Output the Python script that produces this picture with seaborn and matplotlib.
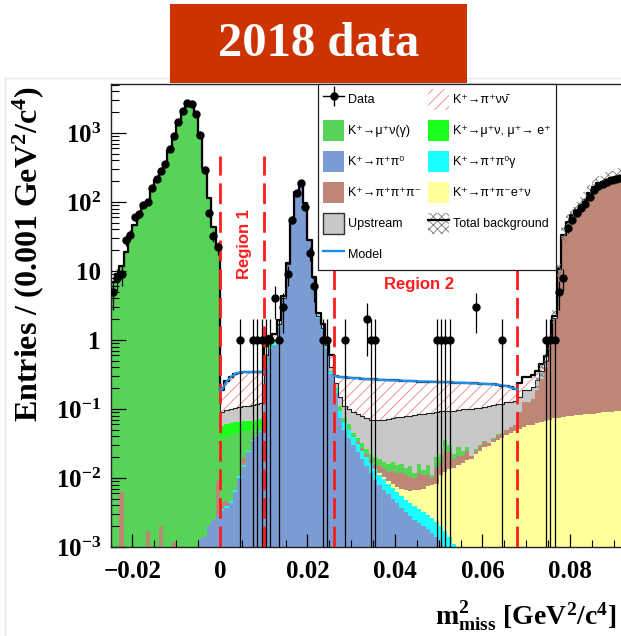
import numpy as np
import pandas as pd
import matplotlib
matplotlib.use("Agg")
import matplotlib.pyplot as plt
import seaborn as sns
from matplotlib.patches import Patch, Rectangle
from matplotlib.lines import Line2D
from matplotlib.legend_handler import HandlerTuple
from matplotlib.ticker import LogLocator, NullFormatter, MultipleLocator
from matplotlib.colors import to_rgba

plt.rcParams['mathtext.fontset'] = 'custom'
plt.rcParams['mathtext.rm'] = 'Liberation Serif:bold'
plt.rcParams['mathtext.it'] = 'Liberation Serif:bold'
plt.rcParams['mathtext.bf'] = 'Liberation Serif:bold'
plt.rcParams['hatch.linewidth'] = 0.6

# ---------------- binning ----------------
BIN_START = -0.025
BIN_WIDTH = 0.001
N_BINS = 117

# ---------------- observed data (entries per bin) ----------------
data_n = [5, 8, 9, 28, 33, 60, 67, 91, 99, 160, 215, 278, 355, 586, 895, 1430, 2106, 2692, 2633, 1885, 945, 291, 69, 32, 22,
          0, 0, 0, 0, 1, 0, 0, 1, 1, 1, 1, 1, 4, 1, 3, 9, 55, 135, 186, 85, 18, 6, 0, 1, 1,
          0, 0, 0, 1, 0, 0, 0, 0, 2, 1, 1, 0, 0, 0, 0, 0, 0, 0, 0, 0, 0, 0, 0, 0, 1,
          1, 1, 1, 0, 0, 0, 0, 0, 3, 0, 0, 0, 0, 0, 1, 0, 0, 0, 0, 0, 0, 0, 0, 0, 1,
          1, 1, 5, 8, 42, 55, 70, 82, 95, 120, 150, 170, 180, 195, 205, 215, 220]

# ---------------- simulated components (start bin index + values) ----------------
kmu2_start = 0
kmu2 = [7, 9, 12, 19, 30, 47, 66, 84, 105, 150, 210, 280, 360, 560, 880, 1400, 2150, 2750, 2700, 1950, 940, 310, 113, 44, 23,
        0.032, 0.034, 0.038, 0.038, 0.035, 0.028, 0.023, 0.012, 0.011, 0.008,
        0.05, 0.04, 0.03, 0.03, 0.02, 0.02, 0.02, 0.02, 0.02, 0.02, 0.02, 0.02, 0.02, 0.015, 0.012, 0.01,
        0.008, 0.012, 0.007, 0.008, 0.005, 0.004, 0.004, 0.003, 0.003, 0.004, 0.004, 0.003, 0.0035, 0.004, 0.003,
        0.004, 0.003, 0.0045, 0.002, 0.004, 0.002, 0.004, 0.001, 0.006, 0.005, 0.01, 0.006, 0.003, 0.007, 0.004,
        0.003, 0.0005, 0.001, 0.001, 0.001, 0, 0.001, 0.001, 0.001, 0.001, 0.001, 0]

mue_start = 25
mue = [0.02, 0.021, 0.02, 0.02, 0.02, 0.019, 0.018, 0.017, 0.016, 0.016,
       0.04, 0.05, 0.03, 0.03, 0.02, 0.02, 0.02, 0.02, 0.02, 0.02, 0.02, 0.02, 0.015, 0.01, 0.008, 0.005,
       0.002, 0.003, 0.003, 0.002, 0.001, 0.001, 0.001, 0.001, 0.0007, 0.0004, 0.0003, 0.0003, 0.0004, 0.0003,
       0.0002, 0.0002]

kpi2_start = 20
kpi2 = [0.0013, 0.0014, 0.0021, 0.0025, 0.003, 0.0033, 0.0037, 0.0044, 0.0063, 0.01, 0.0146, 0.024, 0.034, 0.04, 0.046,
        0.45, 0.75, 0.85, 1.55, 3.9, 12.5, 52, 140, 190, 95, 27.5, 7.8, 2.1, 1.4, 0.75, 0.32,
        0.17, 0.075, 0.05, 0.038, 0.03, 0.024, 0.019, 0.015, 0.012, 0.0095, 0.008, 0.0068, 0.0058, 0.005, 0.0043,
        0.0037, 0.0032, 0.0028, 0.0025, 0.0022, 0.002, 0.0018, 0.0016, 0.0014, 0.0012, 0.001, 0.0008, 0.0006,
        0.0004, 0.0003]

kpi2g_start = 25
kpi2g = [0.0002, 0.0002, 0.0003, 0.0004, 0.0006, 0.0008, 0.001, 0.0015, 0.002, 0.002,
         0.02, 0.03, 0.04, 0.06, 0.1, 0.2, 0.5, 1.0, 1.2, 0.8, 0.3, 0.1, 0.05, 0.04, 0.03, 0.025,
         0.02, 0.02, 0.015, 0.012, 0.009, 0.007, 0.006, 0.005, 0.0043, 0.0037, 0.0032, 0.0028, 0.0025, 0.0022,
         0.002, 0.0018, 0.0016, 0.0015, 0.0014, 0.0013, 0.0012, 0.0011, 0.001, 0.0009, 0.0008, 0.0007, 0.0006,
         0.0005, 0.0004, 0.0003]

ke4_start = 60
ke4 = [0.0004, 0.0005, 0.0006, 0.0008, 0.001, 0.0012, 0.0015, 0.0018, 0.0022, 0.0027, 0.0032, 0.0038, 0.0047,
       0.0052, 0.006, 0.009, 0.0105, 0.012, 0.013, 0.0145, 0.016, 0.018, 0.019, 0.022, 0.025, 0.028, 0.029,
       0.033, 0.036, 0.038, 0.042, 0.045, 0.048, 0.051, 0.054, 0.058, 0.059, 0.062, 0.065, 0.066, 0.07, 0.073,
       0.074, 0.076, 0.079, 0.08, 0.081, 0.083, 0.085, 0.084, 0.086, 0.088, 0.089, 0.09, 0.089, 0.092, 0.093]

k3pi_low_start = 0
k3pi_low = [0, 0, 0.0063, 0, 0, 0, 0, 0, 0.0017, 0, 0, 0.002, 0, 0, 0.0012, 0, 0, 0, 0, 0, 0, 0, 0, 0,
            0.006, 0.001, 0.0008, 0, 0, 0, 0.004, 0, 0.003]

k3pi_high_start = 56
k3pi_high = [0.002, 0.002, 0.002, 0.002, 0.002, 0.003, 0.0035, 0.003, 0.0045, 0.0045, 0.005, 0.0044, 0.004,
             0.0034, 0.0053, 0.004, 0.0036, 0.0022, 0.0057, 0.006, 0.0128, 0.0106, 0.0049, 0.0057, 0.0044, 0.007,
             0.0015, 0.003, 0.004, 0.005, 0.003, 0.004, 0.006, 0.006, 0.007, 0.009, 0.01, 0.039, 0.071, 0.067,
             0.08, 0.128, 0.21, 0.343, 0.75, 1.94, 10.6, 32.7, 51.7, 64.7, 75.7, 89.7, 106.7, 133.7, 166.7, 185.7,
             196.7, 207.7, 219.7, 232.7, 239.7]

upstream_start = 25
upstream = [0.035, 0.036, 0.038, 0.04, 0.042, 0.043, 0.045, 0.046, 0.048, 0.05,
            0.05, 0.05, 0.05, 0.05, 0.05, 0.05, 0.05, 0.05, 0.05, 0.05, 0.05, 0.05, 0.045, 0.045, 0.042, 0.04,
            0.04, 0.04, 0.035, 0.04, 0.045, 0.047, 0.048, 0.049, 0.048, 0.049, 0.05, 0.053, 0.056, 0.057, 0.061,
            0.061, 0.064, 0.065, 0.07, 0.069, 0.072, 0.072, 0.077, 0.07, 0.07, 0.058, 0.065, 0.073, 0.069, 0.075,
            0.072, 0.078, 0.076, 0.075, 0.074, 0.077, 0.077, 0.077, 0.074, 0.075, 0.073, 0.072,
            0.06, 0.065, 0.065, 0.07, 0.07, 0.075, 0.08, 0.08, 0.09, 0.1, 0.1, 0.1, 0.1, 0.1, 0.1, 0.1, 0.1, 0.1,
            0.1, 0.1, 0.1, 0.1, 0.1, 0.1]

pnn_start = 25
pnn = [0.10, 0.155, 0.19, 0.22, 0.23, 0.235, 0.23, 0.23, 0.227, 0.225,
       0.22, 0.22, 0.22, 0.22, 0.22, 0.21, 0.21, 0.21, 0.21, 0.2, 0.2, 0.2, 0.2, 0.2, 0.2, 0.2,
       0.06, 0.14, 0.18, 0.185, 0.19, 0.195, 0.195, 0.195, 0.2, 0.2, 0.196, 0.195, 0.188, 0.186, 0.184, 0.181,
       0.177, 0.175, 0.171, 0.165, 0.165, 0.163, 0.16, 0.158, 0.153, 0.152, 0.148, 0.147, 0.143, 0.14, 0.138,
       0.136, 0.133, 0.128, 0.124, 0.12, 0.113, 0.105, 0.1, 0.09, 0.077, 0.065,
       0.09, 0.1, 0.1, 0.1, 0.1, 0.1, 0.1, 0.1, 0.1, 0.1, 0.09, 0.08, 0.07, 0.06, 0.05, 0.05, 0.04, 0.04,
       0.03, 0.03, 0.03, 0.02, 0.02, 0.02]

# relative uncertainty of the total background (shown on the right)
band_start = 97
band_rel = [0.3, 0.3, 0.3, 0.3, 0.3, 0.3, 0.3, 0.3, 0.3, 0.3, 0.3, 0.3, 0.3, 0.3, 0.3, 0.3, 0.3, 0.3, 0.3, 0.3]

region_edges = [0.0, 0.01, 0.026, 0.068]

XTICKS = [-0.02, 0.0, 0.02, 0.04, 0.06, 0.08]
XTICKLABELS = ['\u22120.02', '0', '0.02', '0.04', '0.06', '0.08']
YTICKS = [1e-3, 1e-2, 1e-1, 1, 10, 1e2, 1e3]
YTICKLABELS = [r'$10^{-3}$', r'$10^{-2}$', r'$10^{-1}$', '1', '10', r'$10^{2}$', r'$10^{3}$']

# ---------------- derived arrays ----------------
edges = BIN_START + BIN_WIDTH * np.arange(N_BINS + 1)
centers = edges[:-1] + BIN_WIDTH / 2
edge_list = edges.tolist()


def place(start, vals):
    arr = np.zeros(N_BINS)
    arr[start:start + len(vals)] = vals
    return arr


comp = {
    'pnn': place(pnn_start, pnn),
    'ups': place(upstream_start, upstream),
    'mue': place(mue_start, mue),
    'kmu2': place(kmu2_start, kmu2),
    'k3pi': place(k3pi_low_start, k3pi_low) + place(k3pi_high_start, k3pi_high),
    'ke4': place(ke4_start, ke4),
    'kpi2g': place(kpi2g_start, kpi2g),
    'kpi2': place(kpi2_start, kpi2),
}
order_top_to_bottom = ['pnn', 'ups', 'mue', 'kmu2', 'k3pi', 'ke4', 'kpi2g', 'kpi2']
SIG_KEY_COLOR = '#fefefe'
palette = {'pnn': SIG_KEY_COLOR, 'ups': '#c8c8c8', 'mue': '#1cff1c', 'kmu2': '#57d357',
           'k3pi': '#bd8676', 'ke4': '#ffff9c', 'kpi2g': '#19ffff', 'kpi2': '#7b9bd3'}

df = pd.concat([pd.DataFrame({'m2': centers, 'w': comp[k], 'comp': k}) for k in order_top_to_bottom],
               ignore_index=True)

bkg = sum(comp[k] for k in order_top_to_bottom if k != 'pnn')
total = bkg + comp['pnn']

# ---------------- figure ----------------
fig = plt.figure(figsize=(6.21, 6.36), dpi=100)
ax = fig.add_axes([110.6 / 621, 89 / 636, 510.15 / 621, 463 / 636])
ax.set_yscale('log')

sns.histplot(data=df, x='m2', weights='w', hue='comp', hue_order=order_top_to_bottom, multiple='stack',
             bins=edge_list, element='step', fill=True, palette=palette, linewidth=0, alpha=1,
             legend=False, ax=ax)

sig_rgba = to_rgba(SIG_KEY_COLOR)
for coll in ax.collections:
    fc = coll.get_facecolor()
    if len(fc) and np.allclose(fc[0], sig_rgba, atol=1e-3):
        coll.set_facecolor('white')
        coll.set_edgecolor('#ee8080')
        coll.set_hatch('///')
        coll.set_linewidth(0)

# background uncertainty band
bi = np.arange(band_start, band_start + len(band_rel))
rel = np.array(band_rel)
lo = bkg[bi] / (1 + rel)
hi = bkg[bi] * (1 + rel)
ax.fill_between(edges[band_start:band_start + len(band_rel) + 1], np.append(lo, lo[-1]), np.append(hi, hi[-1]),
                step='post', facecolor='none', edgecolor='#767676', hatch='xxxx', linewidth=0, zorder=2.2)

# background outline and total outline
sns.histplot(x=centers, weights=bkg, bins=edge_list, element='step', fill=False, color='#222222',
             linewidth=0.8, ax=ax)
sns.histplot(x=centers, weights=total, bins=edge_list, element='step', fill=False, color='black',
             linewidth=1.6, ax=ax)

# model curve in signal regions
for lo_e, hi_e in [(region_edges[0], region_edges[1]), (region_edges[2], region_edges[3])]:
    sel = (centers > lo_e) & (centers < hi_e)
    xs = np.concatenate([[lo_e], centers[sel], [hi_e]])
    ys = np.concatenate([[total[sel][0]], total[sel], [total[sel][-1]]])
    sns.lineplot(x=xs, y=ys, color='#1e8fe6', linewidth=1.7, ax=ax, zorder=3.5, sort=True)

# signal region boundaries
ax.vlines(region_edges, 1e-3, 460, colors='#ff1c1c', linestyles=(0, (7.5, 2.8)), linewidth=2.0, zorder=3)
ax.text(0.0057, 25, 'Region 1', rotation=90, color='#ff1c1c', fontsize=12, fontweight='bold',
        family='Liberation Sans', ha='center', va='center', zorder=4)
ax.text(0.0455, 6.3, 'Region 2', color='#ff1c1c', fontsize=12, fontweight='bold',
        family='Liberation Sans', ha='center', va='center', zorder=4)

# data points
dn = np.array(data_n, dtype=float)
m = dn > 0
ax.errorbar(centers[m], dn[m], yerr=np.sqrt(dn[m]), fmt='o', color='black', ms=5, elinewidth=0.9,
            capsize=0, zorder=5)

# axes styling
ax.set_xlim(-0.025, 0.0916)
ax.set_ylim(1e-3, 5130)
ax.set_xlabel('')
ax.set_ylabel('')
ax.set_xticks(XTICKS)
ax.set_xticklabels(XTICKLABELS)
ax.xaxis.set_minor_locator(MultipleLocator(0.005))
ax.set_yticks(YTICKS)
ax.set_yticklabels(YTICKLABELS)
ax.yaxis.set_minor_locator(LogLocator(base=10, subs=np.arange(2, 10) * 1.0, numticks=30))
ax.yaxis.set_minor_formatter(NullFormatter())
ax.tick_params(axis='both', which='both', direction='in', top=False, right=False, colors='black')
ax.tick_params(axis='y', which='major', length=10.8, width=0.9, pad=7, labelsize=18)
ax.tick_params(axis='y', which='minor', length=5.8, width=0.8)
ax.tick_params(axis='x', which='major', length=9.4, width=0.9, pad=9, labelsize=18)
ax.tick_params(axis='x', which='minor', length=5.0, width=0.8)
for lab in ax.get_xticklabels() + ax.get_yticklabels():
    lab.set_fontfamily('Liberation Serif')
    lab.set_fontweight('bold')
ax.spines['right'].set_visible(False)
for s in ['left', 'top', 'bottom']:
    ax.spines[s].set_linewidth(1.0)
    ax.spines[s].set_color('#222222')

# legend
data_handle = (Line2D([], [], color='black', lw=1.0),
               Line2D([], [], color='black', marker='|', ms=14, mew=1.0, ls='none'),
               Line2D([], [], color='black', marker='o', ms=5, ls='none'))
col1 = [data_handle,
        Patch(facecolor=palette['kmu2'], edgecolor='none'),
        Patch(facecolor=palette['kpi2'], edgecolor='none'),
        Patch(facecolor=palette['k3pi'], edgecolor='none'),
        Patch(facecolor=palette['ups'], edgecolor='#333333', linewidth=1.0),
        Line2D([], [], color='#1e8fe6', lw=1.7)]
col2 = [Patch(facecolor='white', edgecolor='#ee8080', hatch='///', linewidth=0),
        Patch(facecolor=palette['mue'], edgecolor='none'),
        Patch(facecolor=palette['kpi2g'], edgecolor='none'),
        Patch(facecolor=palette['ke4'], edgecolor='none'),
        (Patch(facecolor='white', edgecolor='#767676', hatch='xxxx', linewidth=0),
         Line2D([], [], color='black', lw=1.6))]
lab1 = ['Data', 'K\u207a\u2192\u03bc\u207a\u03bd(\u03b3)', 'K\u207a\u2192\u03c0\u207a\u03c0\u2070',
        'K\u207a\u2192\u03c0\u207a\u03c0\u207a\u03c0\u207b', 'Upstream', 'Model']
lab2 = ['K\u207a\u2192\u03c0\u207a\u03bd\u03bd\u0304', 'K\u207a\u2192\u03bc\u207a\u03bd, \u03bc\u207a\u2192 e\u207a',
        'K\u207a\u2192\u03c0\u207a\u03c0\u2070\u03b3', 'K\u207a\u2192\u03c0\u207a\u03c0\u207be\u207a\u03bd',
        'Total background']
leg = ax.legend(col1 + col2, lab1 + lab2, ncol=2, loc='upper left',
                bbox_to_anchor=((318 - 110.6) / 510.15, 1.0), bbox_transform=ax.transAxes,
                borderaxespad=0, frameon=True, fancybox=False, edgecolor='#222222', framealpha=1,
                prop={'family': ['Liberation Sans', 'DejaVu Sans'], 'size': 9},
                handlelength=1.68, handleheight=2.2, handletextpad=0.3, columnspacing=0.6,
                labelspacing=0.8, borderpad=0.4,
                handler_map={tuple: HandlerTuple(ndivide=1, pad=0)})
leg.get_frame().set_linewidth(0.9)
leg.set_zorder(10)

# axis titles
fig.text(28 / 621, 1 - 86 / 636, r'Entries / (0.001 GeV$^{2}$/c$^{4}$)', rotation=90, ha='center', va='top',
         fontsize=23, fontweight='bold', family='Liberation Serif')
fig.text(616 / 621, 1 - 625 / 636, r'$\mathrm{m^{2}_{miss}}$ [GeV$^{2}$/c$^{4}$]', ha='right', va='baseline',
         fontsize=20, fontweight='bold', family='Liberation Serif')

# faint canvas frame
fig.add_artist(Line2D([5 / 621, 5 / 621], [0, 1 - 78 / 636], transform=fig.transFigure, color='#e6e6e6', lw=1))
fig.add_artist(Line2D([5 / 621, 1], [1 - 78 / 636, 1 - 78 / 636], transform=fig.transFigure, color='#e6e6e6', lw=1))

# title badge
fig.add_artist(Rectangle((170 / 621, 1 - 83 / 636), 297 / 621, 79 / 636, transform=fig.transFigure,
                         facecolor='#cc3300', edgecolor='none', zorder=20))
fig.text(318.5 / 621, 1 - 44 / 636, '2018 data', color='white', fontsize=35, fontweight='bold',
         family='Liberation Serif', ha='center', va='center', zorder=21)

fig.savefig('out.png', dpi=100)
